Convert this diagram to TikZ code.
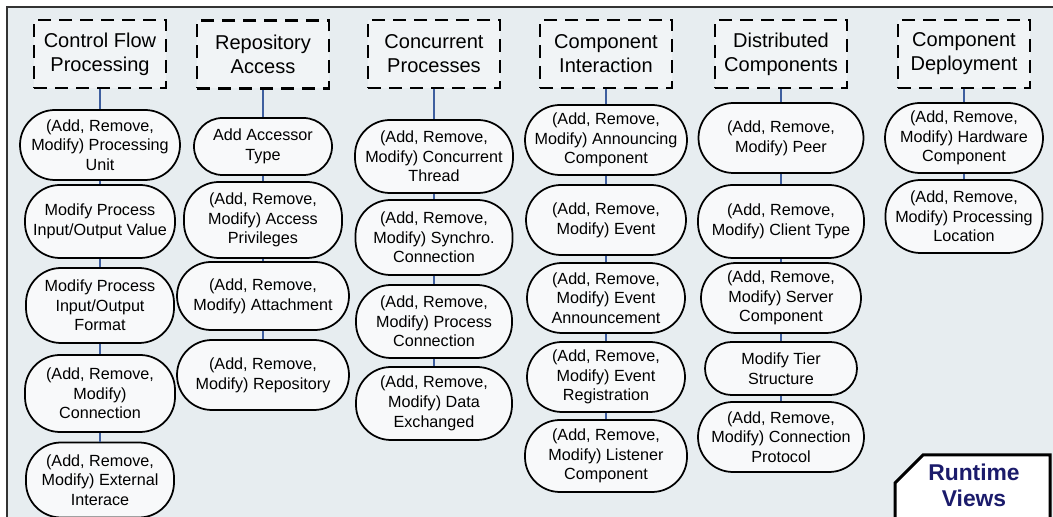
\documentclass[tikz,border=0pt]{standalone}
\usepackage{fontspec}
\setmainfont{Liberation Sans}
\usepackage{xcolor}
\usepackage{tikz}

\definecolor{panelbg}{HTML}{E7EDF0}
\definecolor{ovalfill}{HTML}{F8F9FA}
\definecolor{headfill}{HTML}{F1F4F6}
\definecolor{linkblue}{HTML}{3F5F9F}
\definecolor{navy}{HTML}{1B1B6B}

\begin{document}
\begin{tikzpicture}[
    viewbox/.style={draw,dash pattern=on 0.26cm off 0.16cm,line width=0.055cm,fill=headfill,
        minimum width=2.64cm,minimum height=1.36cm,inner sep=0pt,align=center,
        font=\fontsize{11.4}{13.7}\selectfont},
    opbox/.style={draw,rounded corners=0.7cm,line width=0.035cm,fill=ovalfill,
        inner sep=0pt,align=center,font=\fontsize{9.2}{11.2}\selectfont},
    link/.style={draw=linkblue,line width=0.03cm}
]
    \useasboundingbox (0,0) rectangle (21.06,-10.34);
    % panel
    \fill[panelbg] (0.14,-0.14) rectangle (21.3,-10.6);
    \draw[line width=0.04cm,black!80] (0.14,-10.6) -- (0.14,-0.14) -- (21.3,-0.14);

    % control flow processing
    \node[viewbox] (cf) at (2.00,-1.08) {Control Flow\\Processing};
    \node[opbox,minimum width=3.20cm,minimum height=1.40cm] (cf1) at (2.00,-2.90) {(Add, Remove,\\Modify) Processing\\Unit};
    \node[opbox,minimum width=3.00cm,minimum height=1.46cm] (cf2) at (2.00,-4.43) {Modify Process\\Input/Output Value};
    \node[opbox,minimum width=2.96cm,minimum height=1.50cm] (cf3) at (2.00,-6.11) {Modify Process\\Input/Output\\Format};
    \node[opbox,minimum width=3.00cm,minimum height=1.54cm] (cf4) at (2.00,-7.87) {(Add, Remove,\\Modify)\\Connection};
    \node[opbox,minimum width=2.96cm,minimum height=1.50cm] (cf5) at (2.00,-9.60) {(Add, Remove,\\Modify) External\\Interace};
    \draw[link] (cf) to (cf1);
    \draw[link] (cf1) to (cf2);
    \draw[link] (cf2) to (cf3);
    \draw[link] (cf3) to (cf4);
    \draw[link] (cf4) to (cf5);

    % repository access
    \node[viewbox] (ra) at (5.26,-1.09) {Repository\\Access};
    \node[opbox,minimum width=2.76cm,minimum height=1.14cm,rounded corners=0.57cm] (ra1) at (5.26,-2.93) {Add Accessor\\Type};
    \node[opbox,minimum width=3.16cm,minimum height=1.52cm] (ra2) at (5.26,-4.40) {(Add, Remove,\\Modify) Access\\Privileges};
    \node[opbox,minimum width=3.44cm,minimum height=1.36cm,rounded corners=0.68cm] (ra3) at (5.26,-5.92) {(Add, Remove,\\Modify) Attachment};
    \node[opbox,minimum width=3.44cm,minimum height=1.40cm] (ra4) at (5.26,-7.50) {(Add, Remove,\\Modify) Repository};
    \draw[link] (ra) to (ra1);
    \draw[link] (ra1) to (ra2);
    \draw[link] (ra2) to (ra3);
    \draw[link] (ra3) to (ra4);

    % concurrent processes
    \node[viewbox] (cp) at (8.68,-1.08) {Concurrent\\Processes};
    \node[opbox,minimum width=3.16cm,minimum height=1.46cm] (cp1) at (8.68,-3.13) {(Add, Remove,\\Modify) Concurrent\\Thread};
    \node[opbox,minimum width=3.14cm,minimum height=1.50cm] (cp2) at (8.68,-4.75) {(Add, Remove,\\Modify) Synchro.\\Connection};
    \node[opbox,minimum width=3.12cm,minimum height=1.46cm] (cp3) at (8.68,-6.43) {(Add, Remove,\\Modify) Process\\Connection};
    \node[opbox,minimum width=3.12cm,minimum height=1.46cm] (cp4) at (8.68,-8.07) {(Add, Remove,\\Modify) Data\\Exchanged};
    \draw[link] (cp) to (cp1);
    \draw[link] (cp1) to (cp2);
    \draw[link] (cp2) to (cp3);
    \draw[link] (cp3) to (cp4);

    % component interaction
    \node[viewbox] (ci) at (12.12,-1.08) {Component\\Interaction};
    \node[opbox,minimum width=3.24cm,minimum height=1.40cm] (ci1) at (12.12,-2.80) {(Add, Remove,\\Modify) Announcing\\Component};
    \node[opbox,minimum width=3.20cm,minimum height=1.40cm] (ci2) at (12.12,-4.40) {(Add, Remove,\\Modify) Event};
    \node[opbox,minimum width=3.16cm,minimum height=1.40cm] (ci3) at (12.12,-5.96) {(Add, Remove,\\Modify) Event\\Announcement};
    \node[opbox,minimum width=3.16cm,minimum height=1.40cm] (ci4) at (12.12,-7.54) {(Add, Remove,\\Modify) Event\\Registration};
    \node[opbox,minimum width=3.24cm,minimum height=1.44cm] (ci5) at (12.12,-9.12) {(Add, Remove,\\Modify) Listener\\Component};
    \draw[link] (ci) to (ci1);
    \draw[link] (ci1) to (ci2);
    \draw[link] (ci2) to (ci3);
    \draw[link] (ci3) to (ci4);
    \draw[link] (ci4) to (ci5);

    % distributed components
    \node[viewbox] (dc) at (15.62,-1.08) {Distributed\\Components};
    \node[opbox,minimum width=3.30cm,minimum height=1.40cm] (dc1) at (15.62,-2.76) {(Add, Remove,\\Modify) Peer};
    \node[opbox,minimum width=3.32cm,minimum height=1.46cm] (dc2) at (15.62,-4.43) {(Add, Remove,\\Modify) Client Type};
    \node[opbox,minimum width=3.20cm,minimum height=1.40cm] (dc3) at (15.62,-5.96) {(Add, Remove,\\Modify) Server\\Component};
    \node[opbox,minimum width=3.04cm,minimum height=1.06cm,rounded corners=0.53cm] (dc4) at (15.62,-7.37) {Modify Tier\\Structure};
    \node[opbox,minimum width=3.32cm,minimum height=1.40cm] (dc5) at (15.62,-8.74) {(Add, Remove,\\Modify) Connection\\Protocol};
    \draw[link] (dc) to (dc1);
    \draw[link] (dc1) to (dc2);
    \draw[link] (dc2) to (dc3);
    \draw[link] (dc3) to (dc4);
    \draw[link] (dc4) to (dc5);

    % component deployment
    \node[viewbox] (cd) at (19.28,-1.08) {Component\\Deployment};
    \node[opbox,minimum width=3.16cm,minimum height=1.40cm] (cd1) at (19.28,-2.76) {(Add, Remove,\\Modify) Hardware\\Component};
    \node[opbox,minimum width=3.14cm,minimum height=1.46cm] (cd2) at (19.28,-4.33) {(Add, Remove,\\Modify) Processing\\Location};
    \draw[link] (cd) to (cd1);
    \draw[link] (cd1) to (cd2);

    % runtime views tag
    \draw[line width=0.06cm,fill=white] (17.90,-10.6) -- (17.90,-9.66) -- (18.46,-9.10) -- (21.00,-9.10) -- (21.00,-10.6);
    \node[text=navy,align=center,font=\fontsize{13}{14.8}\selectfont\bfseries] (rv) at (19.48,-9.70) {Runtime\\Views};
\end{tikzpicture}
\end{document}
